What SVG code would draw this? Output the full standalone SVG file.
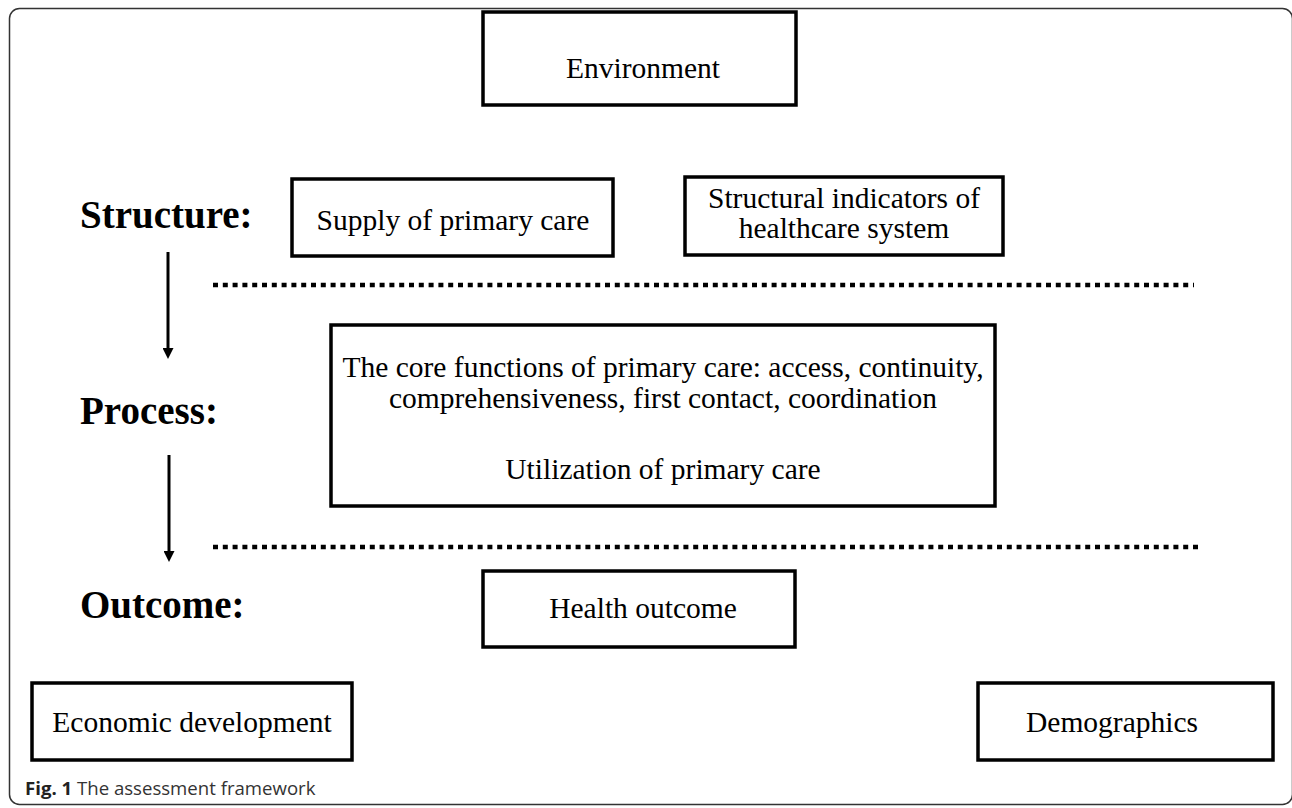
<svg xmlns="http://www.w3.org/2000/svg" width="1292" height="808" viewBox="0 0 1292 808">
<style>
.box{fill:#fff;stroke:#000;stroke-width:3.5}
.t{font-family:"Liberation Serif","Times New Roman",serif;font-size:29.5px;fill:#000;text-anchor:middle}
.lbl{font-family:"Liberation Serif","Times New Roman",serif;font-size:39px;font-weight:bold;fill:#000}
.dot{stroke:#000;stroke-width:4.5;stroke-dasharray:5 4.8;fill:none}
.arr{stroke:#000;stroke-width:3;fill:none}
.cap{font-family:"Open Sans","Noto Sans",sans-serif;font-size:18.6px;fill:#333}
</style>
<defs>
<marker id="ah" viewBox="0 0 11 11" markerWidth="11" markerHeight="11" refX="2" refY="5.5" orient="auto" markerUnits="userSpaceOnUse">
<path d="M0,0 L11,5.5 L0,11 z" fill="#000"/>
</marker>
</defs>
<rect width="1292" height="808" fill="#fff"/>
<rect x="9.5" y="8.5" width="1283" height="796" rx="10" ry="10" fill="none" stroke="#333" stroke-width="1.5"/>

<g id="environment"><rect class="box" x="483" y="12" width="313" height="93"/><text class="t" x="643" y="78">Environment</text></g>

<text class="lbl" x="80" y="228">Structure:</text>
<text class="lbl" x="80" y="424">Process:</text>
<text class="lbl" x="80" y="618">Outcome:</text>

<g id="supply"><rect class="box" x="292" y="179" width="321" height="77"/><text class="t" x="453" y="230">Supply of primary care</text></g>
<g id="structural"><rect class="box" x="685" y="177" width="318" height="78"/><text class="t" x="844" y="208">Structural indicators of</text><text class="t" x="844" y="238">healthcare system</text></g>
<g id="process"><rect class="box" x="331" y="325" width="664" height="181"/><text class="t" x="663" y="377">The core functions of primary care: access, continuity,</text><text class="t" x="663" y="408">comprehensiveness, first contact, coordination</text><text class="t" x="663" y="479">Utilization of primary care</text></g>
<g id="health"><rect class="box" x="483" y="571" width="312" height="76"/><text class="t" x="643" y="618">Health outcome</text></g>
<g id="economic"><rect class="box" x="32" y="683" width="320" height="77"/><text class="t" x="192" y="732">Economic development</text></g>
<g id="demographics"><rect class="box" x="978" y="683" width="295" height="77"/><text class="t" x="1112" y="732">Demographics</text></g>

<g id="connectors">
<line class="dot" x1="213" y1="285" x2="1194" y2="285"/>
<line class="dot" x1="213" y1="547" x2="1198" y2="547"/>
<line class="arr" x1="168" y1="252" x2="168" y2="350" marker-end="url(#ah)"/>
<line class="arr" x1="169" y1="455" x2="169" y2="553" marker-end="url(#ah)"/>
</g>

<text class="cap" x="25" y="795"><tspan font-weight="bold" fill="#222">Fig. 1</tspan> The assessment framework</text>
</svg>
